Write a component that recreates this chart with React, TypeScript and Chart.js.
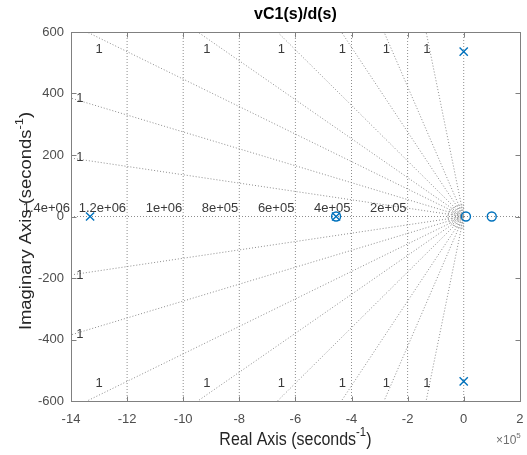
import React, { useEffect, useRef } from "react";
import { Chart, registerables } from "chart.js";

Chart.register(...registerables);

// ---------- data ----------
const TITLE = "vC1(s)/d(s)";
const X_LABEL_MAIN = "Real Axis (seconds";
const Y_LABEL_MAIN = "Imaginary Axis (seconds";
const LABEL_SUP = "-1";
const LABEL_TAIL = ")";
const X_EXP_BASE = "\u00d710";
const X_EXP_SUP = "5";

const X_MIN = -1.4e6;
const X_MAX = 2e5;
const X_STEP = 2e5;
const X_SCALE_DIV = 1e5;
const Y_MIN = -600;
const Y_MAX = 600;
const Y_STEP = 200;

// poles (x markers)
const poleX = [-1.332e6, -4.55e5, 0, 0];
const poleY = [0, 0, 536, -536];
// zeros (o markers)
const zeroX = [-4.55e5, 8000, 1.0e5];
const zeroY = [0, 0, 0];

// natural-frequency arcs and their labels
const freqRadii = [2e5, 4e5, 6e5, 8e5, 1e6, 1.2e6, 1.4e6];
const freqLabels = ["2e+05", "4e+05", "6e+05", "8e+05", "1e+06", "1.2e+06", "1.4e+06"];

// damping rays: where they meet the top/bottom edge (x) and left edge (y)
const rayEdgeX = [-1.343e6, -9.48e5, -6.64e5, -4.36e5, -2.84e5, -1.34e5];
const rayEdgeY = [385, 190];

// damping labels
const dampText = "1";
const dampLabelEdgeX = [-1.3e6, -9.16e5, -6.5e5, -4.33e5, -2.76e5, -1.31e5];
const dampLabelEdgeXY = 543;
const dampLabelLeftX = -1.368e6;
const dampLabelLeftY = [385, 192];

// small frequency arcs around the origin (x radius, y radius)
const smallArcRx = [1.1e4, 2e4, 3e4, 4.2e4, 5.6e4];
const smallArcRy = [8, 14, 21, 29, 38];

// ---------- styles ----------
const FONT = "'Liberation Sans', Arial, Helvetica, sans-serif";
const BLUE = "#0072BD";
const GRID = "rgba(130,130,130,0.9)";
const TICK_COLOR = "#4d4d4d";
const LABEL_COLOR = "#262626";

type P = { x: number; y: number | null };

function buildGrid(): P[] {
  const pts: P[] = [];
  const brk = () => pts.push({ x: NaN, y: null });
  pts.push({ x: X_MIN, y: 0 }, { x: X_MAX, y: 0 });
  brk();
  pts.push({ x: 0, y: Y_MIN }, { x: 0, y: Y_MAX });
  brk();
  rayEdgeX.forEach((ex) => {
    pts.push({ x: 0, y: 0 }, { x: ex, y: Y_MAX });
    brk();
    pts.push({ x: 0, y: 0 }, { x: ex, y: Y_MIN });
    brk();
  });
  rayEdgeY.forEach((ey) => {
    pts.push({ x: 0, y: 0 }, { x: X_MIN, y: ey });
    brk();
    pts.push({ x: 0, y: 0 }, { x: X_MIN, y: -ey });
    brk();
  });
  freqRadii.forEach((r) => {
    const edge = -Math.sqrt(r * r - Y_MAX * Y_MAX);
    pts.push({ x: edge, y: Y_MAX }, { x: -r, y: 0 }, { x: edge, y: Y_MIN });
    brk();
  });
  return pts;
}

function buildSmallArcs(): P[] {
  const pts: P[] = [];
  smallArcRx.forEach((rx, i) => {
    const ry = smallArcRy[i];
    for (let k = 0; k <= 24; k++) {
      const t = Math.PI / 2 + (k * Math.PI) / 24;
      pts.push({ x: rx * Math.cos(t), y: ry * Math.sin(t) });
    }
    pts.push({ x: NaN, y: null });
  });
  return pts;
}

// draws "main" + superscript + tail, centred (or right-aligned) on (0,0) of current transform
function drawSupText(
  ctx: CanvasRenderingContext2D,
  main: string,
  sup: string,
  tail: string,
  size: number,
  align: "center" | "right"
) {
  const supSize = Math.round(size * 0.7);
  ctx.font = `${size}px ${FONT}`;
  const w1 = ctx.measureText(main).width;
  const w3 = ctx.measureText(tail).width;
  ctx.font = `${supSize}px ${FONT}`;
  const w2 = ctx.measureText(sup).width;
  const total = w1 + w2 + w3;
  const x0 = align === "center" ? -total / 2 : -total;
  ctx.textAlign = "left";
  ctx.textBaseline = "middle";
  ctx.font = `${size}px ${FONT}`;
  ctx.fillText(main, x0, 0);
  ctx.font = `${supSize}px ${FONT}`;
  ctx.fillText(sup, x0 + w1, -size * 0.42);
  ctx.font = `${size}px ${FONT}`;
  if (tail) ctx.fillText(tail, x0 + w1 + w2, 0);
}

const SX = 0.94; // horizontal glyph compression seen in the reference
const SY = 1.083; // vertical glyph stretch seen in the reference

const decorPlugin = {
  id: "pzDecor",
  afterDatasetsDraw(chart: any) {
    const { ctx, scales } = chart;
    const x = scales.x;
    const y = scales.y;
    ctx.save();
    ctx.fillStyle = "#3a3a3a";
    ctx.font = `13px ${FONT}`;
    ctx.textAlign = "center";
    ctx.textBaseline = "middle";
    dampLabelEdgeX.forEach((v) => {
      const px = x.getPixelForValue(v);
      ctx.fillText(dampText, px, y.getPixelForValue(dampLabelEdgeXY));
      ctx.fillText(dampText, px, y.getPixelForValue(-dampLabelEdgeXY));
    });
    dampLabelLeftY.forEach((v) => {
      const px = x.getPixelForValue(dampLabelLeftX);
      ctx.fillText(dampText, px, y.getPixelForValue(v));
      ctx.fillText(dampText, px, y.getPixelForValue(-v));
    });
    ctx.textAlign = "right";
    ctx.textBaseline = "bottom";
    freqRadii.forEach((r, i) => {
      ctx.fillText(freqLabels[i], x.getPixelForValue(-r) - 1, y.getPixelForValue(0) - 2);
    });
    ctx.restore();
  },
  afterDraw(chart: any) {
    const { ctx, chartArea: a, scales } = chart;
    const x = scales.x;
    const y = scales.y;
    ctx.save();
    ctx.strokeStyle = "#808080";
    ctx.lineWidth = 1;
    const L = Math.round(a.left) + 0.5;
    const R = Math.round(a.right) + 0.5;
    const T = Math.round(a.top) + 0.5;
    const B = Math.round(a.bottom) + 0.5;
    ctx.strokeRect(L, T, R - L, B - T);
    const TL = 5;
    ctx.beginPath();
    x.ticks.forEach((t: any) => {
      const px = Math.round(x.getPixelForValue(t.value)) + 0.5;
      ctx.moveTo(px, B);
      ctx.lineTo(px, B - TL);
      ctx.moveTo(px, T);
      ctx.lineTo(px, T + TL);
    });
    y.ticks.forEach((t: any) => {
      const py = Math.round(y.getPixelForValue(t.value)) + 0.5;
      ctx.moveTo(L, py);
      ctx.lineTo(L + TL, py);
      ctx.moveTo(R, py);
      ctx.lineTo(R - TL, py);
    });
    ctx.stroke();

    // axis labels
    ctx.fillStyle = LABEL_COLOR;
    ctx.save();
    ctx.translate((a.left + a.right) / 2, 440);
    ctx.scale(SX, SY);
    drawSupText(ctx, X_LABEL_MAIN, LABEL_SUP, LABEL_TAIL, 17, "center");
    ctx.restore();

    ctx.save();
    ctx.translate(27, 221);
    ctx.rotate(-Math.PI / 2);
    ctx.scale(SY, SX);
    drawSupText(ctx, Y_LABEL_MAIN, LABEL_SUP, LABEL_TAIL, 17, "center");
    ctx.restore();

    // exponent
    ctx.fillStyle = "#707070";
    ctx.save();
    ctx.translate(a.right + 1, 441);
    drawSupText(ctx, X_EXP_BASE, X_EXP_SUP, "", 12, "right");
    ctx.restore();
    ctx.restore();
  },
};

export default function App() {
  const ref = useRef<HTMLCanvasElement | null>(null);

  useEffect(() => {
    document.body.style.margin = "0";
    const canvas = ref.current;
    if (!canvas) return;
    const gridStyle = {
      showLine: true,
      pointRadius: 0,
      pointHoverRadius: 0,
      borderColor: GRID,
      borderWidth: 1,
      borderDash: [1, 2],
      fill: false,
      spanGaps: false,
    };
    const chart = new Chart(canvas, {
      type: "scatter",
      data: {
        datasets: [
          {
            label: "poles",
            data: poleX.map((v, i) => ({ x: v, y: poleY[i] })),
            pointStyle: "crossRot",
            pointRadius: 5.8,
            pointBorderWidth: 1.4,
            borderColor: BLUE,
            backgroundColor: BLUE,
            showLine: false,
          },
          {
            label: "zeros",
            data: zeroX.map((v, i) => ({ x: v, y: zeroY[i] })),
            pointStyle: "circle",
            pointRadius: 4.5,
            pointBorderWidth: 1.4,
            borderColor: BLUE,
            backgroundColor: "rgba(0,0,0,0)",
            showLine: false,
          },
          { label: "grid", data: buildGrid() as any, ...gridStyle },
          {
            label: "arcs",
            data: buildSmallArcs() as any,
            ...gridStyle,
            borderDash: [1, 1],
            borderColor: "rgba(120,120,120,0.85)",
          },
        ],
      },
      options: {
        responsive: false,
        animation: false,
        events: [],
        layout: { padding: { left: 0, right: 6, top: 0, bottom: 0 } },
        plugins: {
          legend: { display: false },
          tooltip: { enabled: false },
          title: {
            display: true,
            text: TITLE,
            fullSize: false,
            color: "#000",
            font: { family: FONT, size: 16, weight: "bold" },
            padding: { top: 5, bottom: 7.8 },
          },
        },
        scales: {
          x: {
            type: "linear",
            min: X_MIN,
            max: X_MAX,
            afterFit: (s: any) => {
              s.height = 54;
              s.paddingLeft = 0;
              s.paddingRight = 0;
            },
            ticks: {
              stepSize: X_STEP,
              autoSkip: false,
              maxRotation: 0,
              padding: 11,
              color: TICK_COLOR,
              font: { family: FONT, size: 13 },
              callback: (v: any) => String(Math.round(Number(v) / X_SCALE_DIV)),
            },
            grid: { display: false, drawTicks: false },
            border: { display: false },
          },
          y: {
            type: "linear",
            min: Y_MIN,
            max: Y_MAX,
            afterFit: (s: any) => {
              s.width = 71;
              s.paddingTop = 0;
              s.paddingBottom = 0;
            },
            ticks: {
              stepSize: Y_STEP,
              autoSkip: false,
              padding: 7,
              color: TICK_COLOR,
              font: { family: FONT, size: 13 },
              callback: (v: any) => String(Math.round(Number(v))),
            },
            grid: { display: false, drawTicks: false },
            border: { display: false },
          },
        },
      },
      plugins: [decorPlugin],
    } as any);
    return () => chart.destroy();
  }, []);

  return (
    <div style={{ width: 527, height: 455, background: "#fff" }}>
      <canvas ref={ref} width={527} height={455} />
    </div>
  );
}
